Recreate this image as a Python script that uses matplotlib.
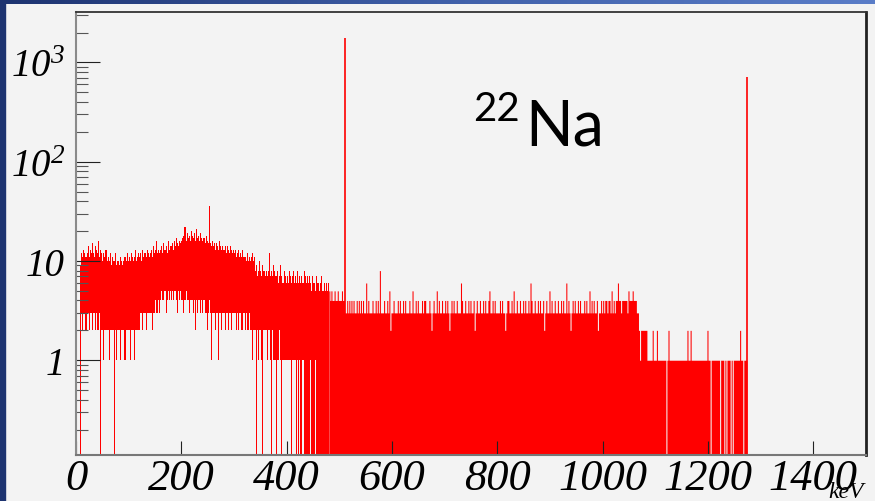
import matplotlib
matplotlib.use("Agg")
import matplotlib.pyplot as plt
import numpy as np
from matplotlib.patches import Rectangle
from matplotlib.ticker import FixedLocator, FixedFormatter, NullFormatter

BIN_KEV = 2.0

# 0-480 keV, per 2 keV bin: top and bottom of the drawn red column (0 = down to the floor)
HI_LOW = [
    0, 0, 0, 0, 9, 12, 11, 13, 12, 11,
    12, 14, 11, 13, 12, 15, 12, 11, 14, 13,
    12, 16, 11, 13, 12, 10, 12, 11, 13, 10,
    11, 10, 12, 9, 11, 10, 10, 12, 9, 10,
    10, 9, 11, 10, 9, 10, 11, 10, 12, 10,
    11, 10, 12, 11, 10, 11, 13, 10, 11, 12,
    11, 12, 10, 13, 11, 12, 11, 13, 12, 11,
    12, 13, 11, 14, 12, 13, 16, 12, 13, 12,
    13, 14, 12, 15, 13, 14, 12, 16, 13, 14,
    14, 15, 13, 16, 14, 17, 15, 14, 16, 15,
    16, 17, 18, 22, 16, 19, 17, 18, 16, 20,
    18, 17, 19, 16, 21, 17, 18, 16, 19, 17,
    16, 17, 15, 18, 16, 15, 36, 15, 14, 16,
    14, 15, 13, 15, 14, 13, 16, 14, 13, 14,
    13, 14, 12, 14, 13, 12, 14, 13, 12, 13,
    12, 13, 11, 12, 13, 11, 12, 11, 13, 11,
    11, 10, 12, 10, 11, 10, 11, 12, 10, 11,
    8, 9, 7, 8, 10, 8, 7, 9, 8, 7,
    8, 7, 8, 12, 7, 8, 7, 9, 8, 7,
    7, 8, 6, 7, 9, 7, 6, 8, 7, 6,
    7, 6, 8, 7, 6, 7, 8, 6, 7, 6,
    8, 6, 7, 6, 7, 6, 8, 7, 6, 7,
    6, 7, 6, 5, 7, 6, 6, 5, 7, 6,
    6, 5, 6, 7, 5, 6, 5, 6, 5, 6,
]
LO_LOW = [
    0, 0, 0, 0, 0, 3, 2, 3, 3, 2,
    3, 3, 2, 3, 3, 2, 3, 3, 2, 3,
    2, 2, 3, 0, 2, 2, 1, 2, 2, 2,
    2, 1, 2, 2, 2, 2, 0, 2, 1, 2,
    2, 2, 1, 2, 2, 2, 1, 2, 2, 2,
    2, 1, 2, 2, 2, 1, 2, 2, 2, 2,
    2, 3, 3, 2, 3, 3, 2, 3, 3, 3,
    3, 3, 2, 3, 3, 4, 3, 3, 4, 3,
    4, 5, 4, 4, 5, 3, 4, 5, 4, 5,
    4, 5, 4, 5, 5, 4, 3, 5, 4, 5,
    4, 4, 3, 4, 5, 4, 4, 3, 4, 4,
    4, 3, 4, 2, 4, 3, 4, 4, 3, 4,
    3, 4, 3, 3, 2, 3, 4, 3, 1, 3,
    3, 3, 2, 3, 3, 1, 3, 3, 2, 3,
    3, 2, 3, 3, 2, 3, 3, 2, 3, 3,
    3, 3, 2, 3, 2, 3, 3, 2, 2, 3,
    2, 3, 2, 2, 3, 2, 2, 1, 2, 2,
    2, 0, 2, 1, 2, 2, 1, 0, 2, 2,
    2, 1, 2, 2, 1, 0, 2, 1, 1, 1,
    0, 1, 1, 2, 1, 0, 1, 1, 1, 1,
    1, 1, 1, 1, 0, 1, 1, 1, 1, 0,
    1, 0, 1, 0, 0, 1, 0, 0, 0, 0,
    0, 0, 1, 0, 0, 0, 0, 1, 0, 0,
    0, 0, 0, 0, 0, 0, 0, 0, 0, 0,
]
# 480-1290 keV, one digit per 2 keV bin (column drawn from the floor)
HI_HIGH = (
    "5454454454" "4454433434" "3434334343" "4343363433" "3433434383"
    "3343343523" "3433343433" "4343334335" "3343433343" "4433343234"
    "3353433433" "4343234343" "3433364334" "3343433423" "4334334343"
    "3453343433" "3343433234" "4334353343" "3433434334" "3643343343"
    "4334234335" "3433433433" "4343363432" "3434334343" "3343433534"
    "3433423343" "4344344353" "4344644344" "4443544454" "4433212222"
    "2211111211" "1211111111" "0121111111" "1111111111" "2112111111"
    "1111111112" "1101111111" "1011101011" "1010111111" "2110111000"
    "00000"
)
HIGH_START_KEV = 480
PEAK_KEV = [511, 1274]
PEAK_COUNTS = [1750, 720]

X_TICKS = [0, 200, 400, 600, 800, 1000, 1200, 1400]
Y_TICKS = [1, 10, 100, 1000]
Y_TICK_LABELS = ["1", "10", r"$10^{2}$", r"$10^{3}$"]
Y_MINOR = [m * 10.0 ** e for e in range(-1, 4) for m in range(2, 10)]

X_MAX = 1500
Y_MIN, Y_MAX = 0.111, 3220
RED = "#ff0000"
BG = "#f3f3f3"

plt.rcParams["mathtext.fontset"] = "custom"
plt.rcParams["mathtext.rm"] = "Liberation Serif:italic"
plt.rcParams["mathtext.it"] = "Liberation Serif:italic"


def draw_columns(ax, start, top, bottom):
    """Step-filled band between bottom and top, one step per bin."""
    edges = start + np.arange(len(top) + 1) * BIN_KEV
    top = np.append(top, top[-1])
    bottom = np.append(bottom, bottom[-1])
    ax.fill_between(edges, bottom, top, step="post", color=RED, lw=0)


W, H = 875, 502
fig = plt.figure(figsize=(W / 100, H / 100), dpi=100, facecolor=BG)

# slide border: dark left strip, gradient strip on top
fig.patches.append(Rectangle((0, 0), 5 / W, 1, transform=fig.transFigure,
                             color="#1d3370", zorder=5))
band = fig.add_axes([0, 1 - 5 / H, 1, 5 / H])
grad = np.linspace(0, 1, 256)[None, :]
band.imshow(grad, aspect="auto", extent=(0, 1, 0, 1),
            cmap=matplotlib.colors.LinearSegmentedColormap.from_list(
                "slide", ["#1d3370", "#3f5fa8", "#5a7dc8"]))
band.set_axis_off()

ax = fig.add_axes([76 / W, 1 - 456 / H, 790 / W, 443 / H])
ax.set_facecolor(BG)
ax.set_yscale("log")

hi_low = np.array(HI_LOW, float)
lo_low = np.array(LO_LOW, float)
top_low = np.where(hi_low > 0, hi_low, Y_MIN)
bot_low = np.where((lo_low > 0) & (hi_low > 0), lo_low, Y_MIN)
draw_columns(ax, 0.0, top_low, bot_low)

hi_high = np.array([int(c) for c in HI_HIGH], float)
top_high = np.where(hi_high > 0, hi_high, Y_MIN)
draw_columns(ax, HIGH_START_KEV, top_high, np.full_like(top_high, Y_MIN))

ax.vlines(PEAK_KEV, Y_MIN, PEAK_COUNTS, color=RED, lw=1.2)

ax.set_xlim(0, X_MAX)
ax.set_ylim(Y_MIN, Y_MAX)

ax.xaxis.set_major_locator(FixedLocator(X_TICKS))
ax.set_xticklabels([str(t) for t in X_TICKS], fontfamily="Liberation Serif",
                   fontstyle="italic", fontsize=32)
ax.yaxis.set_major_locator(FixedLocator(Y_TICKS))
ax.yaxis.set_major_formatter(FixedFormatter(Y_TICK_LABELS))
ax.yaxis.set_minor_locator(FixedLocator(Y_MINOR))
ax.yaxis.set_minor_formatter(NullFormatter())
for lab in ax.get_yticklabels():
    lab.set_fontfamily("Liberation Serif")
    lab.set_fontstyle("italic")
    lab.set_fontsize(28)

ax.tick_params(axis="x", which="major", direction="in", length=10, width=0.8,
               color="#222222", pad=2)
ax.tick_params(axis="y", which="major", direction="in", length=17, width=0.8,
               color="#222222", pad=8)
ax.tick_params(axis="y", which="minor", direction="in", length=8.5,
               width=0.8, color="#555555")
ax.tick_params(axis="x", which="minor", bottom=False)

for side, col, lw in [("left", "#8a8a8a", 1.5), ("bottom", "#777777", 1.5),
                      ("top", "#333333", 1.3), ("right", "#222222", 2.0)]:
    ax.spines[side].set_color(col)
    ax.spines[side].set_linewidth(lw)

fig.text(864 / W, 1 - 498 / H, "keV", ha="right", va="baseline",
         fontfamily="Liberation Serif", fontstyle="italic", fontsize=17)

fig.text(473 / W, 1 - 91 / H, "22", ha="left", va="top",
         fontfamily="Lato", fontsize=29)
fig.text(525 / W, 1 - 146 / H, "Na", ha="left", va="baseline",
         fontfamily="Lato", fontsize=45)

fig.savefig("out.png", dpi=100, facecolor=BG)
